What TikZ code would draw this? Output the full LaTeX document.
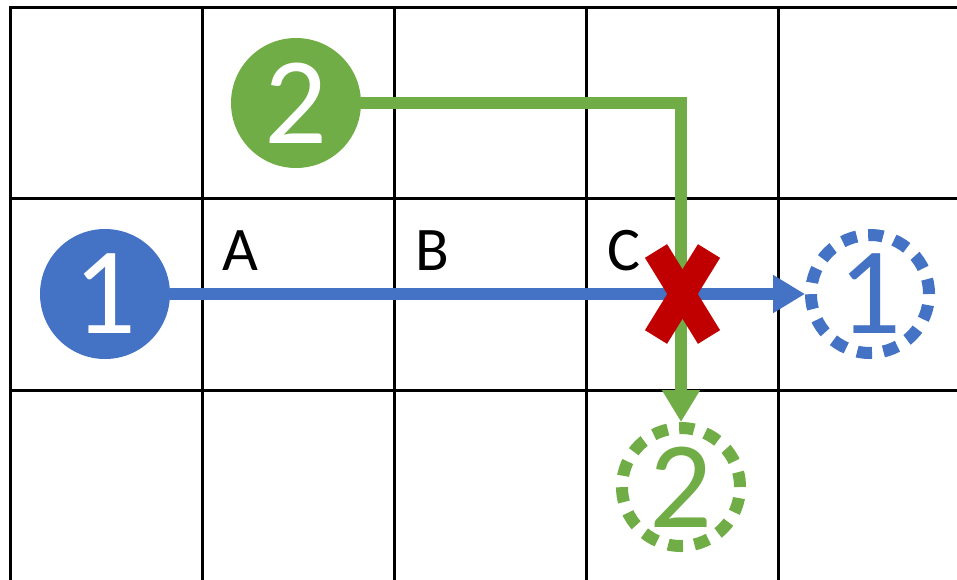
\documentclass[tikz,border=0pt]{standalone}
\usepackage{fontspec}
\setmainfont{Carlito}
\usepackage{xcolor}
\usepackage{tikz}
\usetikzlibrary{
    arrows.meta
}
\definecolor{oneblue}{HTML}{4472C4}
\definecolor{twogreen}{HTML}{70AD47}
\definecolor{stopred}{HTML}{C00000}
\tikzset{
    token/.style={
        circle,
        fill=#1,
        text=white,
        minimum size=130pt,
        inner sep=0pt,
        font=\fontsize{124}{124}\selectfont
    },
    ghost/.style={
        circle,
        draw=#1,
        line width=12pt,
        dash pattern=on 15pt off 11.5pt,
        text=#1,
        minimum size=118pt,
        inner sep=0pt,
        font=\fontsize{124}{124}\selectfont
    },
    cellmark/.style={
        inner sep=0pt,
        font=\fontsize{62}{62}\selectfont
    },
    gridline/.style={
        draw=black,
        line width=3pt,
        line cap=rect
    },
    flow/.style={
        draw=#1,
        line width=12pt,
        -{Triangle[length=32pt,width=36pt]}
    },
    blocked/.style={
        draw=stopred,
        line width=26pt
    }
}

\begin{document}
\begin{tikzpicture}[x=1pt, y=-1pt]
\useasboundingbox (0,0) rectangle (957,579);

% grid
\foreach \x in {10,202,394,586,778}
    \draw[gridline] (\x,7) -- (\x,579);
\foreach \y in {7,198,390}
    \draw[gridline] (10,\y) -- (957,\y);

\node[token=oneblue] (one) at (105,294) {1};
\node[token=twogreen] (two) at (296,103) {2};
\node[ghost=oneblue] (oneghost) at (870,294) {1};
\node[ghost=twogreen] (twoghost) at (681,487) {2};

\node[cellmark] (cella) at (240,251) {A};
\node[cellmark] (cellb) at (432,251) {B};
\node[cellmark] (cellc) at (624,251) {C};

\draw[flow=oneblue] (one) -- (oneghost);
\draw[flow=twogreen] (two) -| (twoghost);

% conflict
\coordinate (clash) at (682,294);
\draw[blocked] (clash) +(-26,-43) -- +(27,43);
\draw[blocked] (clash) +(27,-43) -- +(-26,43);
\end{tikzpicture}
\end{document}
